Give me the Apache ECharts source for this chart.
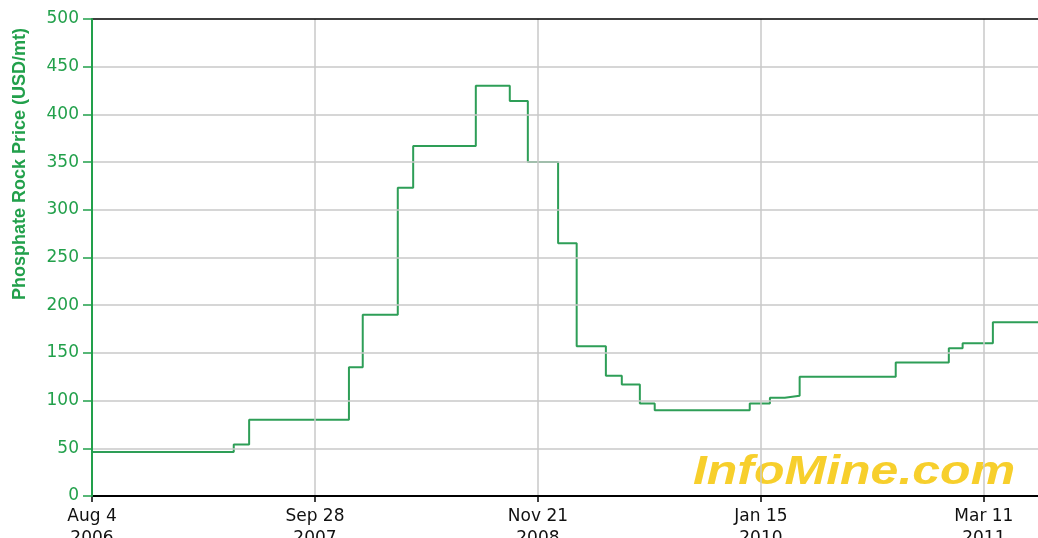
<!DOCTYPE html>
<html>
<head>
<meta charset="utf-8">
<script src="https://cdn.jsdelivr.net/npm/echarts@6/dist/echarts.min.js"></script>
<style>
  html, body { margin: 0; padding: 0; background: #fff; }
  #main { width: 1038px; height: 538px; }
</style>
</head>
<body>
<div id="main"></div>
<script>
// dates where the price changes, and the price from that date on
var stepDates = ['2006-08-04', '2007-04-28', '2007-05-27', '2007-12-01', '2007-12-27',
  '2008-03-02', '2008-03-31', '2008-07-27', '2008-09-29', '2008-11-02', '2008-12-29',
  '2009-02-02', '2009-03-29', '2009-04-28', '2009-06-01', '2009-06-29', '2009-12-25',
  '2010-02-01', '2010-03-01', '2010-03-29', '2010-09-26', '2011-01-04', '2011-01-30',
  '2011-03-28', '2011-06-21'];
var prices = [46, 54, 80, 135, 190, 323, 367, 430, 414, 350, 265, 157, 126, 117, 97, 90,
  97, 103, 105, 125, 140, 155, 160, 182, 182];
var yTicks = [0, 50, 100, 150, 200, 250, 300, 350, 400, 450, 500];

var startDate = '2006-08-04';
var DAY = 86400000;
var months = ['Jan', 'Feb', 'Mar', 'Apr', 'May', 'Jun', 'Jul', 'Aug', 'Sep', 'Oct', 'Nov', 'Dec'];
var t0 = Date.parse(startDate + 'T00:00:00Z');

function dayOf(s) {
  return Math.round((Date.parse(s + 'T00:00:00Z') - t0) / DAY);
}

var seriesData = stepDates.map(function (d, i) {
  return [dayOf(d), prices[i]];
});
var lastDay = dayOf(stepDates[stepDates.length - 1]);

var green = '#22a04b';
var font = 'DejaVu Sans, Arial, sans-serif';

var myChart = echarts.init(document.getElementById('main'));

var option = {
  animation: false,
  grid: {
    left: 92, right: 0, top: 19, bottom: 42,
    outerBoundsMode: 'none',
    containLabel: false
  },
  xAxis: [
    {
      type: 'value',
      min: 0,
      max: lastDay,
      interval: 420,
      z: 5,
      axisLine: { lineStyle: { color: '#000', width: 2 } },
      axisTick: { length: 6, lineStyle: { color: '#000', width: 1.5 } },
      splitLine: {
        show: true, showMinLine: false, showMaxLine: false,
        lineStyle: { color: '#c8c8c8', width: 1.5 }
      },
      axisLabel: {
        color: '#111',
        fontFamily: font,
        fontSize: 17,
        lineHeight: 22,
        margin: 10,
        showMaxLabel: false,
        formatter: function (v) {
          if (v % 420 !== 0) return '';
          var d = new Date(t0 + v * DAY);
          return months[d.getUTCMonth()] + ' ' + d.getUTCDate() + '\n' + d.getUTCFullYear();
        }
      }
    },
    {
      // top border of the plot
      type: 'value',
      position: 'top',
      min: 0,
      max: lastDay,
      z: 5,
      axisLine: { show: true, lineStyle: { color: '#000', width: 1.5 } },
      axisTick: { show: false },
      axisLabel: { show: false },
      splitLine: { show: false }
    }
  ],
  yAxis: {
    type: 'value',
    min: yTicks[0],
    max: yTicks[yTicks.length - 1],
    interval: 50,
    z: 6,
    axisLine: { show: true, lineStyle: { color: green, width: 2 } },
    axisTick: { show: true, length: 9, lineStyle: { color: green, width: 1.5 } },
    splitLine: {
      show: true, showMinLine: false, showMaxLine: false,
      lineStyle: { color: '#c8c8c8', width: 1.5 }
    },
    axisLabel: {
      color: green,
      fontFamily: font,
      fontSize: 17,
      margin: 13
    }
  },
  graphic: [
    {
      type: 'text',
      x: 20,
      y: 164,
      rotation: Math.PI / 2,
      style: {
        text: 'Phosphate Rock Price (USD/mt)',
        fill: green,
        font: 'bold 18px Arial, Liberation Sans, sans-serif',
        textAlign: 'center',
        textVerticalAlign: 'middle'
      }
    },
    {
      type: 'text',
      x: 854,
      y: 473,
      z: -1,
      scaleX: 1.25,
      style: {
        text: 'InfoMine.com',
        fill: '#f7cf2c',
        font: 'italic bold 40px Arial, Liberation Sans, sans-serif',
        textAlign: 'center',
        textVerticalAlign: 'middle',
        shadowColor: 'rgba(80,70,30,0.6)',
        shadowBlur: 2,
        shadowOffsetX: 2,
        shadowOffsetY: 2
      }
    }
  ],
  series: [
    {
      name: 'Phosphate Rock',
      type: 'line',
      step: 'end',
      showSymbol: false,
      xAxisIndex: 0,
      lineStyle: { color: '#2e9e57', width: 2 },
      data: seriesData,
      z: 3
    }
  ]
};

myChart.setOption(option);
</script>
</body>
</html>
